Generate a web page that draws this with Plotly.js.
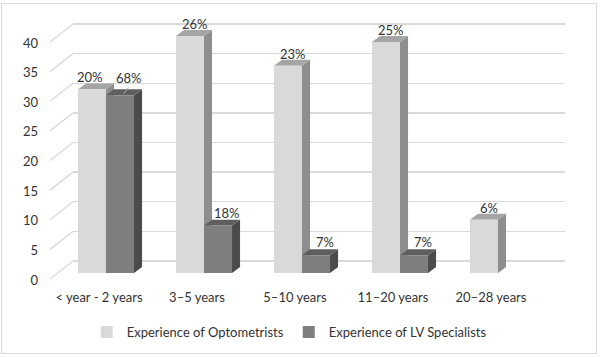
<!DOCTYPE html>
<html>
<head>
<meta charset="utf-8">
<script src="https://cdn.plot.ly/plotly-3.0.1.min.js"></script>
<style>
  html, body { margin: 0; padding: 0; background: #fff; }
  #wrap { position: relative; width: 600px; height: 357px; }
  #chart { width: 600px; height: 357px; }
  #frame { position: absolute; left: 1px; top: 3px; width: 594px; height: 349px;
           border: 1px solid #d9d9d9; pointer-events: none; }
</style>
</head>
<body>
<div id="wrap"><div id="chart"></div><div id="frame"></div></div>
<script>
// ---- data ----
const categories = ['< year - 2 years', '3–5 years', '5–10 years', '11–20 years', '20–28 years'];
const optometrists = [31, 40, 35, 39, 9];
const lvSpecialists = [30, 8, 3, 3, null];
const optLabels = ['20%', '26%', '23%', '25%', '6%'];
const lvLabels = ['68%', '18%', '7%', '7%', ''];
const yTicks = [0, 5, 10, 15, 20, 25, 30, 35, 40];
const seriesNames = ['Experience of Optometrists', 'Experience of LV Specialists'];

// ---- geometry (pixels of the 600x357 canvas) ----
const W = 600, H = 357;
const px = v => v / W, py = v => 1 - v / H;
const unitPx = 5.925;               // pixels per value unit
const barFront0 = 273;              // y pixel of value 0 on bar front plane
const yMax = 45;
const wall0 = 261;                  // y pixel of value 0 on back wall
const barW = 0.286;                 // bar width in category units
const depthX = 0.082, depthY = 1.0; // 3D depth offsets in data units

const colors = {
  optFront: '#d9d9d9', optTop: '#a5a5a5', optSide: '#8e8e8e',
  lvFront: '#7f7f7f', lvTop: '#5e5e5e', lvSide: '#4b4b4b'
};
const font = 'Lato, "Open Sans", sans-serif';
const textColor = '#333333';

const xIdx = categories.map((c, i) => i);

const traces = [
  // carrier for the back-wall grid subplot
  { type: 'scatter', x: [0.5], y: [20], xaxis: 'x', yaxis: 'y', mode: 'markers',
    marker: { opacity: 0 }, showlegend: false, hoverinfo: 'skip' },
  { type: 'bar', x: xIdx, y: optometrists, name: seriesNames[0], xaxis: 'x2', yaxis: 'y2',
    width: barW, offset: -barW, marker: { color: colors.optFront, line: { width: 0 } }, hoverinfo: 'y' },
  { type: 'bar', x: xIdx, y: lvSpecialists, name: seriesNames[1], xaxis: 'x2', yaxis: 'y2',
    width: barW, offset: 0, marker: { color: colors.lvFront, line: { width: 0 } }, hoverinfo: 'y' }
];

const shapes = [];
// diagonal floor-to-wall connectors for each gridline
yTicks.forEach(v => {
  shapes.push({ type: 'line', xref: 'paper', yref: 'paper', layer: 'below',
    x0: px(50), y0: py(wall0 + 18 - v * unitPx), x1: px(73), y1: py(wall0 - v * unitPx),
    line: { color: '#d9d9d9', width: 1.3 } });
});
// 3D faces of bars
function faces(x0, v, top, side) {
  if (v === null || v === undefined) return;
  const x1 = x0 + barW;
  shapes.push({ type: 'path', xref: 'x2', yref: 'y2', layer: 'between',
    path: `M${x1},0 L${x1 + depthX},${depthY} L${x1 + depthX},${v + depthY} L${x1},${v} Z`,
    fillcolor: side, line: { width: 0 } });
  shapes.push({ type: 'path', xref: 'x2', yref: 'y2', layer: 'between',
    path: `M${x0},${v} L${x0 + depthX},${v + depthY} L${x1 + depthX},${v + depthY} L${x1},${v} Z`,
    fillcolor: top, line: { width: 0 } });
}
xIdx.forEach(i => {
  faces(i - barW, optometrists[i], colors.optTop, colors.optSide);
  faces(i, lvSpecialists[i], colors.lvTop, colors.lvSide);
});

const annotations = [];
xIdx.forEach(i => {
  const crowded = lvSpecialists[i] !== null && lvSpecialists[i] > 20;
  annotations.push({ xref: 'x2', yref: 'y2', x: i - barW / 2 + depthX / 2, y: optometrists[i] + depthY,
    text: optLabels[i], showarrow: false, yanchor: 'bottom', yshift: -4, xshift: crowded ? -6 : 1,
    font: { family: font, size: 13, color: textColor } });
  if (lvSpecialists[i] !== null) {
    annotations.push({ xref: 'x2', yref: 'y2', x: i + barW / 2 + depthX / 2, y: lvSpecialists[i] + depthY,
      text: lvLabels[i], showarrow: false, yanchor: 'bottom', yshift: crowded ? 1 : -3, xshift: 5,
      font: { family: font, size: 13, color: textColor } });
  }
});
// leader line for the first LV label
shapes.push({ type: 'line', xref: 'x2', yref: 'y2', layer: 'above',
  x0: 0 + barW / 2 + depthX / 2 - 0.005, y0: lvSpecialists[0] + depthY * 0.2,
  x1: 0 + barW / 2 + depthX / 2 + 0.045, y1: lvSpecialists[0] + depthY * 1.3,
  line: { color: '#a6a6a6', width: 1 } });

const layout = {
  width: W, height: H,
  margin: { l: 0, r: 0, t: 0, b: 0 },
  paper_bgcolor: '#fff', plot_bgcolor: 'rgba(0,0,0,0)',
  font: { family: font, size: 13, color: textColor },
  showlegend: true,
  legend: { orientation: 'h', x: 0.482, xanchor: 'center', y: py(332), yanchor: 'middle',
            font: { family: font, size: 13, color: textColor }, itemwidth: 30, traceorder: 'normal' },
  // back wall grid
  xaxis: { domain: [px(73), px(565)], range: [0, 1], showgrid: false, zeroline: false,
           showticklabels: false, showline: false, ticks: '', fixedrange: true },
  yaxis: { domain: [py(wall0 + 0.3 * unitPx), py(wall0 - 40.3 * unitPx)], range: [-0.3, 40.3], tickvals: yTicks,
           showgrid: true, gridcolor: '#dadada', gridwidth: 1.4, zeroline: false,
           showticklabels: false, showline: false, ticks: '', fixedrange: true },
  // bars
  xaxis2: { domain: [px(57), px(547)], range: [-0.5, 4.5], anchor: 'y2',
            tickvals: xIdx, ticktext: categories, showgrid: false, zeroline: false, showline: false,
            ticks: '', ticklabelshift: -7, ticklabelstandoff: 15, fixedrange: true,
            tickfont: { family: font, size: 13, color: textColor } },
  yaxis2: { domain: [py(barFront0), py(barFront0 - yMax * unitPx)], range: [0, yMax], anchor: 'x2',
            tickvals: yTicks, showgrid: false, zeroline: false, showline: false, ticks: '',
            ticklabelshift: 7, ticklabelstandoff: 18, fixedrange: true,
            tickfont: { family: font, size: 13, color: textColor } },
  barmode: 'overlay',
  shapes: shapes,
  annotations: annotations
};

Plotly.newPlot('chart', traces, layout, { displayModeBar: false, staticPlot: true });
</script>
</body>
</html>
